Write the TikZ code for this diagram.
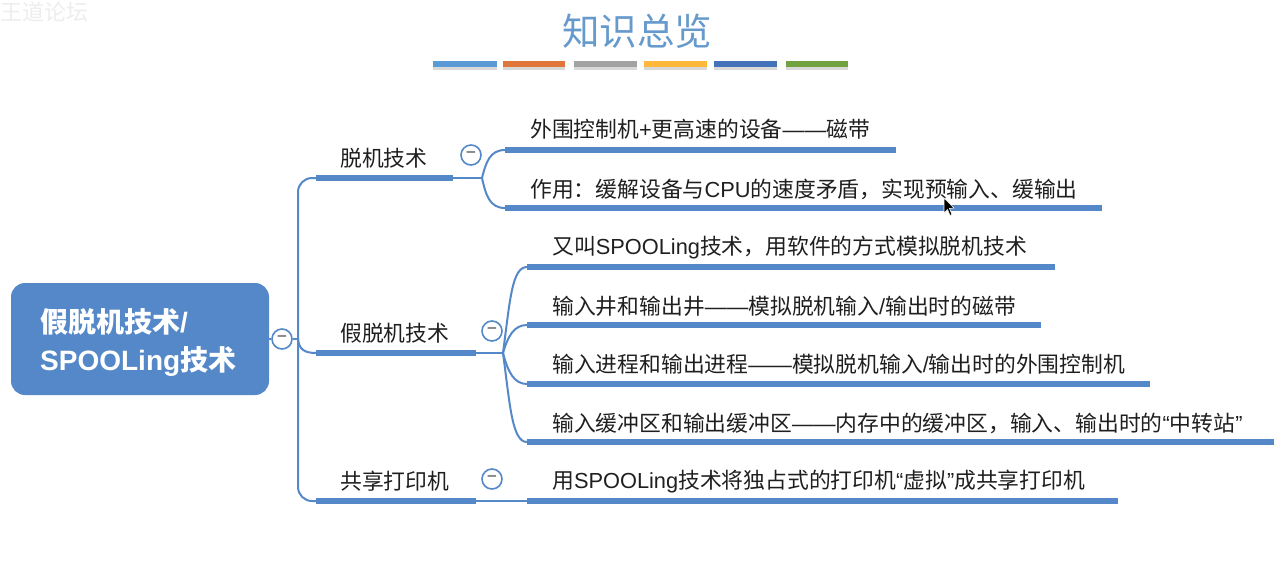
\documentclass[tikz,border=0pt]{standalone}
\usepackage{fontspec}
\setmainfont{Noto Sans CJK SC}
\newfontfamily\latn{Liberation Sans}
\newcommand{\longdash}{{\latn ——}}
\newcommand{\cncomma}{\char"FF0C\relax}
\newcommand{\cncolon}{\char"FF1A\relax}
\usetikzlibrary{shadows}
\definecolor{mapblue}{HTML}{5588C8}
\definecolor{titleblue}{HTML}{6699CC}
\definecolor{bara}{HTML}{5B9BD5}
\definecolor{barb}{HTML}{E0763A}
\definecolor{barc}{HTML}{A3A3A3}
\definecolor{bard}{HTML}{FFB83C}
\definecolor{bare}{HTML}{4472B8}
\definecolor{barf}{HTML}{70A33F}
\begin{document}
\begin{tikzpicture}[
            x=1pt,
            y=-1pt,
            rootbox/.style={
                rectangle,
                rounded corners=14pt,
                fill=mapblue,
                minimum width=258pt,
                minimum height=112pt
            },
            roottext/.style={
                inner sep=0pt,
                anchor=west,
                text=white,
                font=\fontsize{28pt}{34pt}\selectfont\bfseries
            },
            colorbar/.style={
                rectangle,
                inner sep=0pt,
                minimum height=6pt,
                drop shadow={shadow xshift=0pt, shadow yshift=-2.5pt, opacity=0.3}
            },
            mapbar/.style={
                rectangle,
                fill=mapblue,
                inner sep=0pt,
                minimum height=6.5pt,
                anchor=west
            },
            maptext/.style={
                inner sep=0pt,
                anchor=west,
                text=black!88,
                font=\fontsize{21.8pt}{25pt}\selectfont
            },
            fold/.style={
                circle,
                draw=mapblue,
                line width=1.6pt,
                fill=white,
                minimum size=20pt,
                inner sep=0pt,
                text=black!45,
                font=\fontsize{16pt}{16pt}\selectfont\bfseries
            },
            link/.style={
                draw=mapblue,
                line width=2pt
            }
        ]

            \useasboundingbox (0,0) rectangle (1282,584);

            \node[text=black!7, anchor=west, inner sep=0pt, font=\fontsize{22pt}{24pt}\selectfont] (mark) at (0,12) {王道论坛};

            \node[inner sep=0pt, text=titleblue, font=\fontsize{37.5pt}{40pt}\selectfont] (title) at (637,31) {知识总览};

            \node[colorbar, fill=bara, minimum width=64pt] (c1) at (465,64) {};
            \node[colorbar, fill=barb, minimum width=62pt] (c2) at (534,64) {};
            \node[colorbar, fill=barc, minimum width=63pt] (c3) at (605.5,64) {};
            \node[colorbar, fill=bard, minimum width=63pt] (c4) at (675.5,64) {};
            \node[colorbar, fill=bare, minimum width=63pt] (c5) at (745.5,64) {};
            \node[colorbar, fill=barf, minimum width=62pt] (c6) at (817,64) {};

            \node[rootbox] (root) at (140,339) {};
            \node[roottext] (r1) at (40,322) {假脱机技术{\latn\bfseries /}};
            \node[roottext] (r2) at (40,361) {{\latn\bfseries SPOOLing}技术};
            \node[fold] (fold0) at (282,339) {−};
            \coordinate (trunk) at (298,339);

            \node[mapbar, minimum width=137pt] (b1) at (316,178) {};
            \node[mapbar, minimum width=160pt] (b2) at (316,353) {};
            \node[mapbar, minimum width=160pt] (b3) at (316,501) {};
            \node[maptext] (t1) at (340,158) {脱机技术};
            \node[maptext] (t2) at (340,333) {假脱机技术};
            \node[maptext] (t3) at (340,481) {共享打印机};
            \node[fold] (fold1) at (471,155) {−};
            \node[fold] (fold2) at (492,331) {−};
            \node[fold] (fold3) at (492,479) {−};

            \coordinate (hub1) at (482,178);
            \coordinate (hub2) at (503,353);

            \node[mapbar, minimum width=391pt] (l1) at (505,150) {};
            \node[mapbar, minimum width=597pt] (l2) at (505,208) {};
            \node[mapbar, minimum width=528pt] (l3) at (527,267) {};
            \node[mapbar, minimum width=514pt] (l4) at (527,325) {};
            \node[mapbar, minimum width=623pt] (l5) at (527,384) {};
            \node[mapbar, minimum width=747pt] (l6) at (527,442) {};
            \node[mapbar, minimum width=591pt] (l7) at (527,501) {};

            \node[maptext] (s1) at (530,129) {外围控制机{\latn +}更高速的设备\longdash 磁带};
            \node[maptext] (s2) at (530,189) {作用\cncolon 缓解设备与{\latn CPU}的速度矛盾\cncomma 实现预输入、缓输出};
            \node[maptext] (s3) at (552,248) {又叫{\latn SPOOLing}技术\cncomma 用软件的方式模拟脱机技术};
            \node[maptext] (s4) at (552,306) {输入井和输出井\longdash 模拟脱机输入{\latn /}输出时的磁带};
            \node[maptext] (s5) at (552,364) {输入进程和输出进程\longdash 模拟脱机输入{\latn /}输出时的外围控制机};
            \node[maptext] (s6) at (552,423) {输入缓冲区和输出缓冲区\longdash 内存中的缓冲区\cncomma 输入、输出时的{\latn “}中转站{\latn ”}};
            \node[maptext] (s7) at (552,482) {用{\latn SPOOLing}技术将独占式的打印机{\latn “}虚拟{\latn ”}成共享打印机};

            \draw[link] (root.east) -- (fold0.west);
            \draw[link] (fold0.east) -- (trunk);
            \draw[link, rounded corners=14pt] (b1.west) -| (trunk) |- (b3.west);
            \draw[link] (trunk) .. controls (299,349) and (304,353) .. (b2.west);

            \draw[link] (b1.east) -- (hub1);
            \draw[link] (hub1) .. controls (486,162) and (490,150) .. (l1.west);
            \draw[link] (hub1) .. controls (486,196) and (490,208) .. (l2.west);

            \draw[link] (b2.east) -- (hub2);
            \draw[link] (hub2) .. controls (510,300) and (512,267) .. (l3.west);
            \draw[link] (hub2) .. controls (508,336) and (514,325) .. (l4.west);
            \draw[link] (hub2) .. controls (508,372) and (514,384) .. (l5.west);
            \draw[link] (hub2) .. controls (510,405) and (512,442) .. (l6.west);
            \draw[link] (b3.east) -- (l7.west);

            % pointer
            \filldraw[black, draw=white, line width=0.6pt] (944,198) -- (944,213) -- (947.5,209.5) -- (950,215.5) -- (952,214.5) -- (949.5,208.5) -- (954,208) -- cycle;

        \end{tikzpicture}
\end{document}
